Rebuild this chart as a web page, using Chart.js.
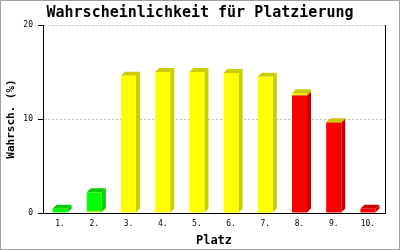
<!DOCTYPE html>
<html>
<head>
<meta charset="utf-8">
<script src="https://cdn.jsdelivr.net/npm/chart.js@4/dist/chart.umd.min.js"></script>
<style>
html,body{margin:0;padding:0;background:#fff;}
#wrap{width:400px;height:250px;position:relative;}
</style>
</head>
<body>
<div id="wrap"><canvas id="c" width="400" height="250"></canvas></div>
<script>
const categories = ["1.", "2.", "3.", "4.", "5.", "6.", "7.", "8.", "9.", "10."];
const redValues    = [0, 0, 0, 0, 0, 0, 0, 12.5, 9.6, 0.45];
const yellowValues = [0, 0.15, 14.6, 15.0, 15.0, 14.9, 14.5, 0.25, 0.03, 0];
const greenValues  = [0.45, 2.05, 0, 0, 0, 0, 0, 0, 0, 0];
const yTicks = [0, 10, 20];

const MONO = "'DejaVu Sans Mono', monospace";
const DEPTH = 4;

const sideColors = {"#ff0000": "#cc0000", "#ffff00": "#cccc00", "#00ff00": "#00cc00"};

const bar3d = {
  id: 'bar3d',
  beforeDatasetsDraw(chart) {
    const ctx = chart.ctx;
    const n = chart.data.labels.length;
    for (let i = 0; i < n; i++) {
      chart.data.datasets.forEach((ds, di) => {
        if (!ds.data[i]) return;
        const el = chart.getDatasetMeta(di).data[i];
        const l = el.x - el.width / 2, r = el.x + el.width / 2;
        const t = Math.min(el.y, el.base), b = Math.max(el.y, el.base);
        const c = sideColors[ds.backgroundColor];
        ctx.save();
        ctx.fillStyle = c;
        ctx.beginPath();
        ctx.moveTo(r, b);
        ctx.lineTo(r, t);
        ctx.lineTo(r + DEPTH, t - DEPTH);
        ctx.lineTo(r + DEPTH, b - DEPTH);
        ctx.closePath();
        ctx.fill();
        ctx.beginPath();
        ctx.moveTo(l, t);
        ctx.lineTo(l + DEPTH, t - DEPTH);
        ctx.lineTo(r + DEPTH, t - DEPTH);
        ctx.lineTo(r, t);
        ctx.closePath();
        ctx.fill();
        ctx.restore();
      });
    }
  },
  afterDraw(chart) {
    const ctx = chart.ctx;
    ctx.save();
    ctx.strokeStyle = '#a0a0a0';
    ctx.lineWidth = 2;
    ctx.strokeRect(0, 0, 400, 250);
    ctx.restore();
  }
};

new Chart(document.getElementById('c'), {
  type: 'bar',
  data: {
    labels: categories,
    datasets: [
      {data: redValues, backgroundColor: '#ff0000'},
      {data: yellowValues, backgroundColor: '#ffff00'},
      {data: greenValues, backgroundColor: '#00ff00'}
    ]
  },
  options: {
    responsive: false,
    animation: false,
    devicePixelRatio: 1,
    layout: {padding: 0},
    datasets: {bar: {categoryPercentage: 1, barPercentage: 0.44, borderWidth: 0}},
    plugins: {
      legend: {display: false},
      tooltip: {enabled: false},
      title: {
        display: true,
        text: 'Wahrscheinlichkeit für Platzierung',
        color: '#000',
        font: {family: MONO, size: 15, weight: 'bold'},
        padding: {top: 4, bottom: 3}
      }
    },
    scales: {
      x: {
        stacked: true,
        grid: {display: false, drawTicks: false},
        border: {color: '#000', width: 1},
        ticks: {color: '#000', font: {family: MONO, size: 8}, padding: 6, maxRotation: 0},
        title: {display: true, text: 'Platz', color: '#000', font: {family: MONO, size: 12, weight: 'bold'}, padding: {top: 0, bottom: 2}},
        afterFit(s) { s.height = 37; }
      },
      y: {
        stacked: true,
        min: 0, max: 20,
        afterBuildTicks(s) { s.ticks = yTicks.map(v => ({value: v})); },
        grid: {
          color: ctx => ctx.tick && ctx.tick.value === 0 ? 'rgba(0,0,0,0)' : '#c0c0c0',
          tickColor: '#000',
          tickLength: 5,
          tickBorderDash: [],
          lineWidth: 1
        },
        border: {color: '#000', width: 1, dash: [2, 2]},
        ticks: {color: '#000', font: {family: MONO, size: 8}, padding: 5},
        title: {display: true, text: 'Wahrsch. (%)', color: '#000', font: {family: MONO, size: 11, weight: 'bold'}, padding: {top: 5, bottom: 0}},
        afterFit(s) { s.width = 43; }
      },
      yRight: {
        position: 'right',
        min: 0, max: 20,
        grid: {drawOnChartArea: false, drawTicks: false},
        border: {color: '#000', width: 1},
        ticks: {display: false},
        afterFit(s) { s.width = 15; }
      }
    }
  },
  plugins: [bar3d]
});
</script>
</body>
</html>
